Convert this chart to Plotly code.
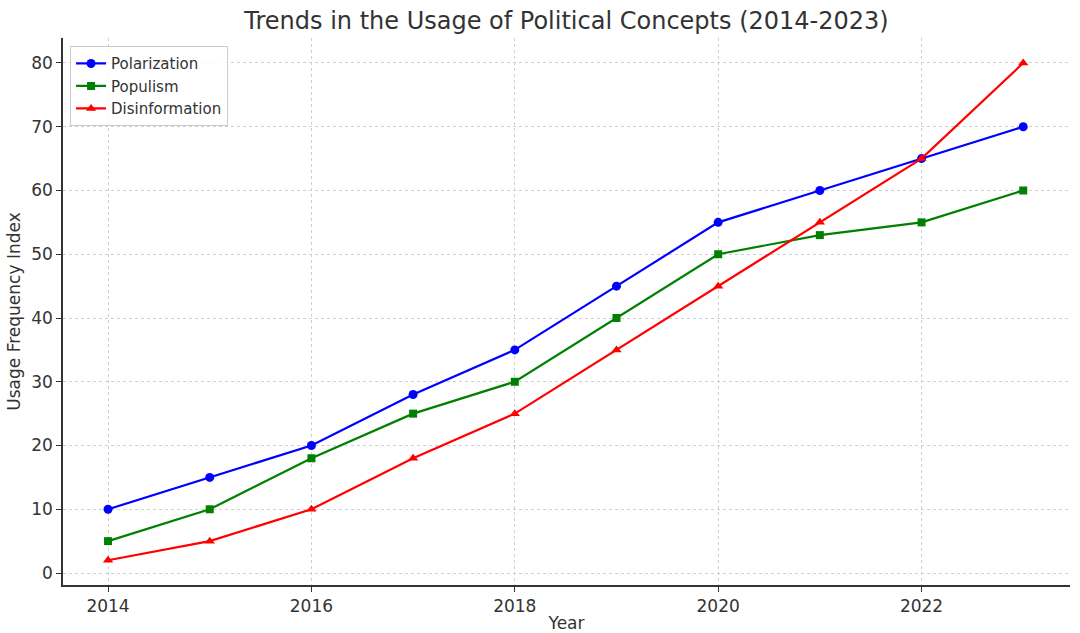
import plotly.graph_objects as go

years = [2014, 2015, 2016, 2017, 2018, 2019, 2020, 2021, 2022, 2023]
polarization = [10, 15, 20, 28, 35, 45, 55, 60, 65, 70]
populism = [5, 10, 18, 25, 30, 40, 50, 53, 55, 60]
disinformation = [2, 5, 10, 18, 25, 35, 45, 55, 65, 80]

fig = go.Figure()
fig.add_trace(go.Scatter(x=years, y=polarization, name="Polarization", mode="lines+markers",
                         line=dict(color="#0000ff", width=2.2), marker=dict(symbol="circle", size=9)))
fig.add_trace(go.Scatter(x=years, y=populism, name="Populism", mode="lines+markers",
                         line=dict(color="#008000", width=2.2), marker=dict(symbol="square", size=8)))
fig.add_trace(go.Scatter(x=years, y=disinformation, name="Disinformation", mode="lines+markers",
                         line=dict(color="#ff0000", width=2.2), marker=dict(symbol="triangle-up", size=9)))

fig.update_layout(
    width=1080, height=633,
    paper_bgcolor="white", plot_bgcolor="white",
    margin=dict(l=63, r=10, t=38, b=48, autoexpand=False),
    font=dict(family="DejaVu Sans", color="#333333", size=16),
    title=dict(text="Trends in the Usage of Political Concepts (2014-2023)", x=0.5, xanchor="center",
               xref="paper", y=0.968, yanchor="middle", font=dict(size=24, color="#333333"),
               automargin=False),
    legend=dict(x=0.007, y=0.985, xanchor="left", yanchor="top", bgcolor="rgba(255,255,255,0.8)",
                bordercolor="#cccccc", borderwidth=1, font=dict(size=15, color="#333333"),
                itemwidth=30, tracegroupgap=0),
    showlegend=True,
)
fig.update_xaxes(range=[2013.557, 2023.46], tickvals=[2014, 2016, 2018, 2020, 2022],
                 tickfont=dict(size=17),
                 showline=True, linecolor="#333333", linewidth=1.5, mirror=False,
                 ticks="outside", ticklen=5, tickcolor="#333333", automargin=False,
                 showgrid=True, gridcolor="#d0d0d0", griddash="3px,3px", gridwidth=1,
                 zeroline=False, title=dict(text="Year", standoff=4, font=dict(size=17)))
fig.update_yaxes(range=[-1.88, 83.92], tickvals=[0, 10, 20, 30, 40, 50, 60, 70, 80],
                 tickfont=dict(size=17),
                 showline=True, linecolor="#333333", linewidth=1.5, mirror=False,
                 ticks="outside", ticklen=5, tickcolor="#333333", automargin=False,
                 showgrid=True, gridcolor="#d0d0d0", griddash="3px,3px", gridwidth=1,
                 zeroline=False, title=dict(text="Usage Frequency Index", standoff=6, font=dict(size=17)))

fig.write_html("out.html", config={"displayModeBar": False},
               post_script="document.body.style.margin='0';document.body.style.overflow='hidden';")
